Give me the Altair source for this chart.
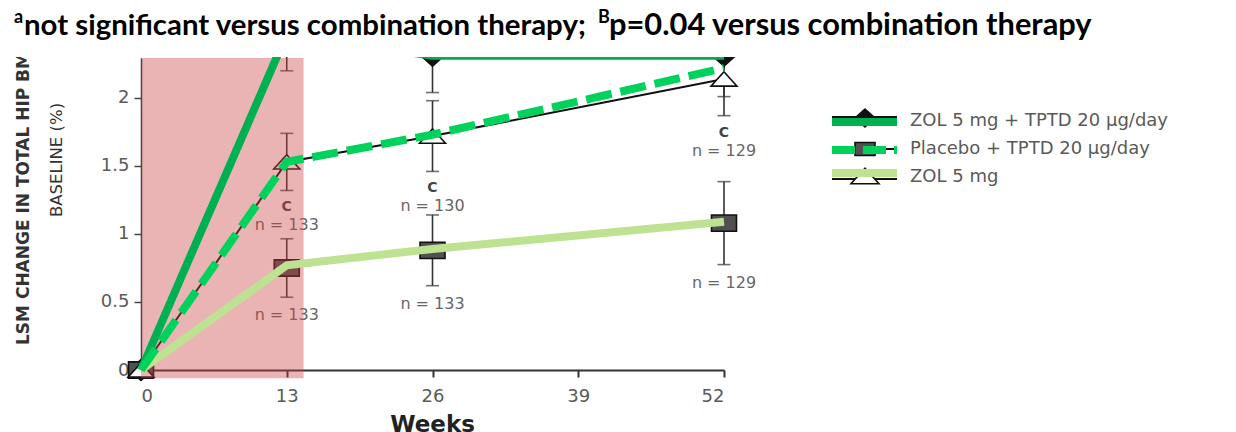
import altair as alt
import pandas as pd

# ---- data -------------------------------------------------------------
weeks = [0, 13, 26, 52]

# original chart series (black markers with error bars)
combo_mean = [0.0, 2.47, 2.31, 2.31]
combo_err = [0.0, 0.27, 0.27, 0.30]
placebo_mean = [0.0, 0.75, 0.88, 1.08]
placebo_err = [0.0, 0.215, 0.26, 0.305]
zol_mean = [0.0, 1.53, 1.72, 2.14]
zol_err = [0.0, 0.21, 0.26, 0.27]

zol_sig = ["", "C", "C", "C"]
zol_n = ["", "n = 133", "n = 130", "n = 129"]
placebo_n = ["", "n = 133", "n = 133", "n = 129"]

# coloured highlight lines drawn over the chart
hl_combo = [0.0, 2.47, 2.31, 2.31]
hl_dashed = [0.0, 1.53, 1.73, 2.22]
hl_light = [0.0, 0.77, 0.89, 1.09]

# shaded first-quarter window
band_start = [0]
band_end = [14.5]
band_low = [-0.06]

legend_labels = ["ZOL 5 mg + TPTD 20 μg/day", "Placebo + TPTD 20 μg/day", "ZOL 5 mg"]
y_title = ["LSM CHANGE IN TOTAL HIP BMD FROM", "BASELINE (%)"]
header = ["a", "not significant versus combination therapy;", "B", "p=0.04 versus combination therapy"]
x_title = "Weeks"

x_ticks = [0, 13, 26, 39, 52]
y_ticks = [0, 0.5, 1, 1.5, 2]
Y_TOP = 2.294

# ---- styling ----------------------------------------------------------
W, H = 583, 312
DARK_GREEN = "#00b050"
BRIGHT_GREEN = "#00d25c"
LIGHT_GREEN = "#bde291"
PINK = "#cc4444"
GREY_TXT = "#5a5a5a"
FONT = "DejaVu Sans"

DIAMOND = "M0,-0.9L1,0L0,0.9L-1,0Z"
SQUARE = "M-1,-0.65L1,-0.65L1,0.65L-1,0.65Z"
TRIANGLE = "M0,-0.55L1,0.55L-1,0.55Z"


def series_frame(mean, err, n=None, sig=None):
    df = pd.DataFrame({
        "week": weeks,
        "mean": mean,
        "lo": [m - e for m, e in zip(mean, err)],
        "hi": [m + e for m, e in zip(mean, err)],
    })
    if n is not None:
        df["n"] = n
    if sig is not None:
        df["sig"] = sig
    return df


combo_df = series_frame(combo_mean, combo_err)
placebo_df = series_frame(placebo_mean, placebo_err, n=placebo_n)
zol_df = series_frame(zol_mean, zol_err, n=zol_n, sig=zol_sig)

x_scale = alt.Scale(domain=[0, 52], nice=False, zero=False)
y_scale = alt.Scale(domain=[0, Y_TOP], nice=False, zero=False)

x_axis = alt.Axis(values=x_ticks, format="d", title=None, grid=False,
                  labelFont=FONT, labelFontSize=18, labelColor=GREY_TXT,
                  tickSize=7, tickWidth=2, tickColor="#333",
                  domainColor="#333", domainWidth=2, labelPadding=10)
y_axis = alt.Axis(values=y_ticks, format=".1~f", title=None, grid=False,
                  labelFont=FONT, labelFontSize=18, labelColor=GREY_TXT,
                  tickSize=7, tickWidth=1.5, tickColor="#444",
                  domainColor="#333", domainWidth=1.5, labelPadding=5)


def X(field):
    return alt.X(field, type="quantitative", scale=x_scale, axis=x_axis)


def Y(field):
    return alt.Y(field, type="quantitative", scale=y_scale, axis=y_axis)


layers = []

# black connecting lines of the original chart
for df in [combo_df, placebo_df, zol_df]:
    layers.append(
        alt.Chart(df).mark_line(color="#111", strokeWidth=2).encode(
            x=X("week"), y=Y("mean"))
    )

# error bars with caps
for df in [combo_df, placebo_df, zol_df]:
    base = alt.Chart(df).transform_filter("datum.week > 0")
    layers.append(base.mark_rule(color="#333", strokeWidth=1.6).encode(
        x=X("week"), y=Y("lo"), y2="hi"))
    for end in ["lo", "hi"]:
        layers.append(base.mark_tick(color="#333", orient="horizontal", size=13,
                                     thickness=1.6).encode(x=X("week"), y=Y(end)))

# markers
marker_specs = [
    (combo_df, DIAMOND, 529, "#111"),
    (placebo_df, SQUARE, 625, "#505050"),
    (zol_df, TRIANGLE, 676, "white"),
]
for df, shape, size, fill in marker_specs:
    layers.append(
        alt.Chart(df).mark_point(shape=shape, size=size, filled=True, fill=fill,
                                 stroke="#111", strokeWidth=1.6, opacity=1).encode(
            x=X("week"), y=Y("mean"))
    )

# annotations under the error bars
zol_lab = alt.Chart(zol_df).transform_filter("datum.week > 0")
layers.append(zol_lab.mark_text(font=FONT, fontSize=14, fontWeight="bold", color="#444",
                                dy=17, baseline="middle").encode(
    x=X("week"), y=Y("lo"), text="sig:N"))
layers.append(zol_lab.mark_text(font=FONT, fontSize=16, color="#666",
                                dy=35, baseline="middle").encode(
    x=X("week"), y=Y("lo"), text="n:N"))
layers.append(alt.Chart(placebo_df).transform_filter("datum.week > 0").mark_text(
    font=FONT, fontSize=16, color="#666", dy=18, baseline="middle").encode(
    x=X("week"), y=Y("lo"), text="n:N"))

# translucent window over the first weeks
band_df = pd.DataFrame({"start": band_start, "end": band_end,
                        "low": band_low, "top": [Y_TOP]})
layers.append(alt.Chart(band_df).mark_rect(color=PINK, opacity=0.4).encode(
    x=X("start"), x2="end", y=Y("low"), y2="top"))

# highlight lines
hl_df = pd.DataFrame({"week": weeks, "combo": hl_combo,
                      "dashed": hl_dashed, "light": hl_light})
layers.append(alt.Chart(hl_df).mark_line(color=DARK_GREEN, strokeWidth=8,
                                         strokeCap="butt").encode(x=X("week"), y=Y("combo")))
layers.append(alt.Chart(hl_df).mark_line(color=LIGHT_GREEN, strokeWidth=8,
                                         strokeCap="butt").encode(x=X("week"), y=Y("light")))
layers.append(alt.Chart(hl_df).mark_line(color=BRIGHT_GREEN, strokeWidth=8,
                                         strokeDash=[26, 9], strokeCap="butt").encode(
    x=X("week"), y=Y("dashed")))

# ---- hand-built legend ------------------------------------------------
one = pd.DataFrame({"k": [0]})


def rule(x1, x2, y, color, width, dash=None):
    kw = dict(color=color, strokeWidth=width, strokeCap="butt")
    if dash:
        kw["strokeDash"] = dash
    return alt.Chart(one).mark_rule(**kw).encode(
        x=alt.value(x1), x2=alt.value(x2), y=alt.value(y))


def symbol(x, y, shape, size, fill):
    return alt.Chart(one).mark_point(shape=shape, size=size, filled=True, fill=fill,
                                     stroke="#111", strokeWidth=1.6, opacity=1).encode(
        x=alt.value(x), y=alt.value(y))


def label(txt, x, y, **kw):
    return alt.Chart(pd.DataFrame({"t": [txt]})).mark_text(**kw).encode(
        x=alt.value(x), y=alt.value(y), text="t:N")


LX1, LX2, LXM, LXT = 691, 756, 724, 769
legend_rows = [
    # (marker y, marker, size, fill, black line y, green y, colour, dash, text y)
    (60, DIAMOND, 400, "#111", 59, 64, DARK_GREEN, None, 63),
    (91, SQUARE, 400, "#505050", 91, 92, BRIGHT_GREEN, [23, 8], 91),
    (118, TRIANGLE, 784, "white", 121, 115, LIGHT_GREEN, None, 119),
]
for (my, shp, sz, fill, by, gy, col, dash, ty), txt in zip(legend_rows, legend_labels):
    layers.append(rule(LX1, LX2, by, "#111", 2))
    layers.append(symbol(LXM, my, shp, sz, fill))
    layers.append(rule(LX1, LX2, gy, col, 8, dash))
    layers.append(label(txt, LXT, ty, font=FONT, fontSize=18, color=GREY_TXT,
                        align="left", baseline="middle"))

# ---- titles -----------------------------------------------------------
layers.append(label(x_title, W / 2, 356, font=FONT, fontSize=23, fontWeight="bold",
                    color="#222", align="center", baseline="top"))
layers.append(label(y_title[0], -117, 287, font=FONT, fontSize=17, fontWeight="bold",
                    color="#333", angle=270, align="left", baseline="middle"))
layers.append(label(y_title[1], -84, 102, font=FONT, fontSize=16.5,
                    color="#333", angle=270, align="center", baseline="middle"))

# white strip across the top that the header sits on
layers.append(alt.Chart(one).mark_rect(color="white").encode(
    x=alt.value(-141), x2=alt.value(1095), y=alt.value(-58), y2=alt.value(-1)))

HEAD_FONT = "Lato"
layers.append(label(header[0], -127, -35, font=HEAD_FONT, fontSize=18, fontWeight="bold",
                    color="black", align="left", baseline="alphabetic"))
layers.append(label(header[1], -117, -23, font=HEAD_FONT, fontSize=29.4, fontWeight="bold",
                    color="black", align="left", baseline="alphabetic"))
layers.append(label(header[2], 457, -35, font=HEAD_FONT, fontSize=18, fontWeight="bold",
                    color="black", align="left", baseline="alphabetic"))
layers.append(label(header[3], 468, -23, font=HEAD_FONT, fontSize=30.8, fontWeight="bold",
                    color="black", align="left", baseline="alphabetic"))

chart = alt.layer(*layers).properties(
    width=W,
    height=H,
    padding={"left": 141, "top": 58, "right": 1236 - 141 - W, "bottom": 432 - 58 - H},
    autosize=alt.AutoSizeParams(type="none"),
    background="white",
).configure_view(stroke=None)

chart.save("out.html", embed_options={"renderer": "svg", "actions": False})
